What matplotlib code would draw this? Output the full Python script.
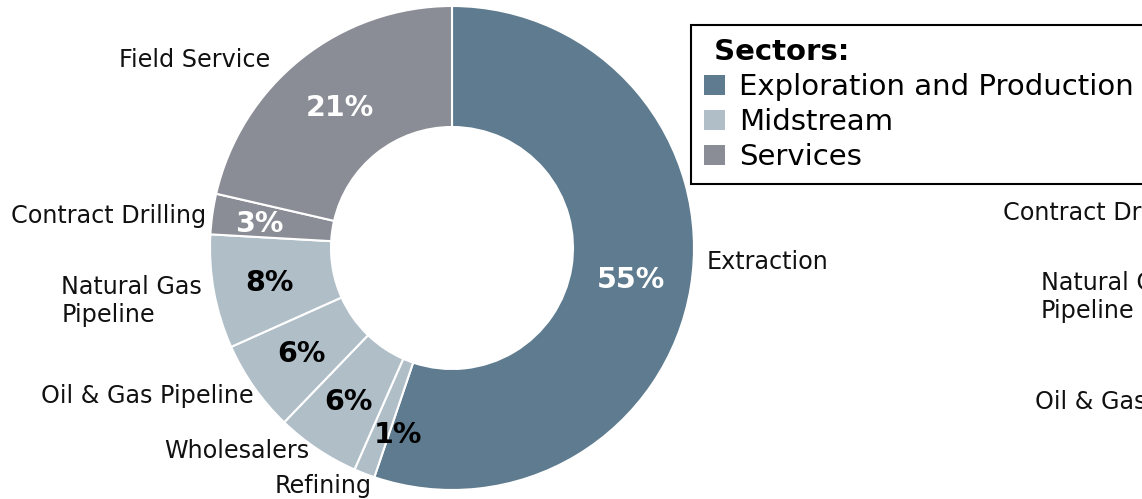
##################################################
# Donut chart: sector breakdown by sub-industry
##################################################
import matplotlib
matplotlib.use('Agg')
import matplotlib.pyplot as plt
from matplotlib.patches import Patch

##################################################
# Data
##################################################
industries = ['Extraction', 'Refining', 'Wholesalers', 'Oil & Gas Pipeline',
              'Natural Gas\nPipeline', 'Contract Drilling', 'Field Service']
shares = [55.2, 1.4, 5.6, 6.1, 7.6, 2.7, 21.4]
sector_of = ['Exploration and Production', 'Midstream', 'Midstream', 'Midstream',
             'Midstream', 'Services', 'Services']

sectors = ['Exploration and Production', 'Midstream', 'Services']
sector_colors = {'Exploration and Production': '#5e7b8f',
                 'Midstream': '#b0bec8',
                 'Services': '#8a8d95'}
pct_text_color = {'Exploration and Production': 'white',
                  'Midstream': 'black',
                  'Services': 'white'}

# label placement (data units of the donut axes, radius = 1)
label_xy = [(1.054, -0.058), (-0.331, -0.983), (-0.591, -0.839), (-0.818, -0.612),
            (-1.033, -0.219), (-1.017, 0.132), (-0.752, 0.777)]
pct_xy = [(0.740, -0.132), (-0.223, -0.773), (-0.430, -0.636), (-0.624, -0.438),
          (-0.756, -0.145), (-0.798, 0.099), (-0.463, 0.579)]

# labels of the neighbouring chart that is cut off at the right edge
cut_labels = ['Contract Drilling', 'Natural Gas\nPipeline', 'Oil & Gas Pipeline']
cut_xy = [(1003, 213), (1041, 297), (1035, 402)]

##################################################
# Plot
##################################################
W, H = 1142, 499
fig = plt.figure(figsize=(W / 100, H / 100), dpi=100)
ax = fig.add_axes([(452 - 242) / W, (H - 248 - 242) / H, 484 / W, 484 / H])

colors = [sector_colors[s] for s in sector_of]
wedges, _ = ax.pie(shares, colors=colors, startangle=90, counterclock=False,
                   wedgeprops=dict(width=0.5, edgecolor='white', linewidth=1.5))
ax.set_xlim(-1, 1)
ax.set_ylim(-1, 1)
ax.set_aspect('equal')
ax.axis('off')

for name, (x, y) in zip(industries, label_xy):
    ax.text(x, y, name, ha='left' if x > 0 else 'right', va='center',
            multialignment='left', fontsize=17.2, color='#111111')

for val, sec, (x, y) in zip(shares, sector_of, pct_xy):
    ax.text(x, y, '%.0f%%' % val, ha='center', va='center', fontsize=20.5,
            fontweight='bold', color=pct_text_color[sec])

for name, (px, py) in zip(cut_labels, cut_xy):
    fig.text(px / W, 1 - py / H, name, ha='left', va='center',
             multialignment='left', fontsize=17.2, color='#111111')

handles = [Patch(facecolor=sector_colors[s], edgecolor='none') for s in sectors]
leg = fig.legend(handles, sectors, loc='upper left',
                 bbox_to_anchor=(691 / W, 1 - 25 / H), fontsize=21,
                 title=' Sectors:', title_fontproperties={'size': 21, 'weight': 'bold'},
                 alignment='left', frameon=True, fancybox=False, framealpha=1,
                 edgecolor='black', handlelength=0.7, handleheight=0.7,
                 handletextpad=0.5, labelspacing=0.24, borderpad=0.45,
                 borderaxespad=0)
leg.get_frame().set_linewidth(1.5)

fig.savefig('out.png', dpi=100)
